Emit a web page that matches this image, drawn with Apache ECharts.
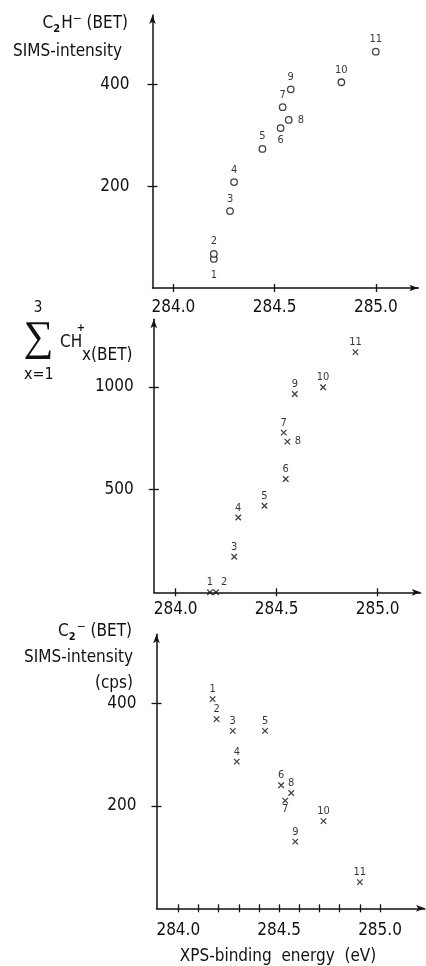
<!DOCTYPE html>
<html>
<head>
<meta charset="utf-8">
<script src="https://cdn.jsdelivr.net/npm/echarts@6/dist/echarts.min.js"></script>
<style>
  html, body { margin: 0; padding: 0; background: #fff; }
  #chart { width: 426px; height: 966px; }
</style>
</head>
<body>
<div id="chart"></div>
<script>
// Sample numbers 1..11, shared by all three panels
const pointNumbers = [1, 2, 3, 4, 5, 6, 7, 8, 9, 10, 11];

// Panel 1: C2H- (BET) SIMS intensity vs XPS binding energy
const c2hEnergy    = [284.20, 284.20, 284.28, 284.30, 284.44, 284.53, 284.54, 284.57, 284.58, 284.83, 285.00];
const c2hIntensity = [57, 67, 151, 208, 273, 314, 355, 330, 390, 404, 464];

// Panel 2: sum of CHx+ (x = 1..3) (BET)
const chxEnergy    = [284.17, 284.20, 284.29, 284.31, 284.44, 284.545, 284.535, 284.553, 284.59, 284.73, 284.89];
const chxIntensity = [0, 0, 173, 364, 422, 552, 778, 734, 966, 999, 1170];

// Panel 3: C2- (BET) SIMS intensity (cps)
const c2Energy    = [284.17, 284.19, 284.27, 284.29, 284.43, 284.51, 284.53, 284.56, 284.58, 284.72, 284.90];
const c2Intensity = [408, 369, 346, 286, 346, 240, 210, 225, 130, 170, 51];

// Tick values
const energyTicks = [284.0, 284.5, 285.0];
const energyFineTicks = [284.0, 284.1, 284.2, 284.3, 284.4, 284.5, 284.6, 284.7, 284.8, 284.9, 285.0];
const c2hTicks = [200, 400];
const chxTicks = [500, 1000];
const c2Ticks = [200, 400];

const INK = '#111';
const FONT = '"DejaVu Sans Condensed", "Liberation Sans Narrow", "DejaVu Sans", sans-serif';

// where each point's number sits relative to its marker (default: above)
const labelPlacement = [
  { 1: { position: 'bottom', distance: 7 }, 6: { position: 'bottom', distance: 3 }, 8: { position: 'right', distance: 5 } },
  { 2: { position: 'top', offset: [8, 0] }, 8: { position: 'right', distance: 4 } },
  { 7: { position: 'bottom', distance: 0 } }
];

const panels = [
  { grid: { left: 152.5, top: 15, width: 265.8, height: 273 },
    xRange: [283.897, 285.210], yRange: [0, 536],
    xTicks: energyTicks, yTicks: c2hTicks, yLabelMargin: 23, xLabelMargin: 11,
    energy: c2hEnergy, intensity: c2hIntensity, marker: 'circle', dist: 3 },
  { grid: { left: 153.8, top: 319.3, width: 266.9, height: 273 },
    xRange: [283.892, 285.213], yRange: [0, 1330],
    xTicks: energyTicks, yTicks: chxTicks, yLabelMargin: 20, xLabelMargin: 9,
    energy: chxEnergy, intensity: chxIntensity, marker: 'cross', dist: 1 },
  { grid: { left: 156.5, top: 634.3, width: 268.5, height: 274 },
    xRange: [283.892, 285.223], yRange: [0, 534.4],
    xTicks: energyFineTicks, xLabels: energyTicks, yTicks: c2Ticks, yLabelMargin: 20, xLabelMargin: 14,
    energy: c2Energy, intensity: c2Intensity, marker: 'cross', dist: 1 }
];

const grids = [], xAxes = [], yAxes = [], series = [];
const CROSS = 'path://M0,0L10,10M10,0L0,10';

panels.forEach((p, i) => {
  grids.push(p.grid);
  const labelVals = p.xLabels || p.xTicks;
  // main x axis: line with arrow, ticks below, labels
  xAxes.push({
    type: 'value', gridIndex: i, position: 'bottom', min: p.xRange[0], max: p.xRange[1],
    axisLine: { show: true, onZero: false, symbol: ['none', 'arrow'], symbolSize: [5, 9],
      lineStyle: { color: INK, width: 1.5 } },
    axisTick: { show: true, length: 4, customValues: p.xTicks, lineStyle: { color: INK, width: 1.3 } },
    axisLabel: { show: true, customValues: labelVals, margin: p.xLabelMargin, color: INK,
      fontFamily: FONT, fontSize: 17, formatter: v => v.toFixed(1) },
    splitLine: { show: false }
  });
  // companion x axis on the same line: tick marks above it, forming crosses
  xAxes.push({
    type: 'value', gridIndex: i, position: 'bottom', min: p.xRange[0], max: p.xRange[1],
    axisLine: { show: false, onZero: false },
    axisTick: { show: true, inside: true, length: 4, customValues: p.xTicks, lineStyle: { color: INK, width: 1.3 } },
    axisLabel: { show: false }, splitLine: { show: false }
  });
  yAxes.push({
    type: 'value', gridIndex: i, position: 'left', min: p.yRange[0], max: p.yRange[1],
    axisLine: { show: true, onZero: false, symbol: ['none', 'arrow'], symbolSize: [5, 9],
      lineStyle: { color: INK, width: 1.5 } },
    axisTick: { show: true, length: 5, customValues: p.yTicks, lineStyle: { color: INK, width: 1.3 } },
    axisLabel: { show: true, customValues: p.yTicks, margin: p.yLabelMargin, color: INK,
      fontFamily: FONT, fontSize: 17, formatter: v => String(v) },
    splitLine: { show: false }
  });
  yAxes.push({
    type: 'value', gridIndex: i, position: 'left', min: p.yRange[0], max: p.yRange[1],
    axisLine: { show: false, onZero: false },
    axisTick: { show: true, inside: true, length: 5, customValues: p.yTicks, lineStyle: { color: INK, width: 1.3 } },
    axisLabel: { show: false }, splitLine: { show: false }
  });

  const data = pointNumbers.map((n, k) => {
    const lp = labelPlacement[i][n] || {};
    return {
      name: String(n),
      value: [p.energy[k], p.intensity[k]],
      label: Object.assign({ position: 'top', distance: p.dist }, lp)
    };
  });

  series.push({
    type: 'scatter', xAxisIndex: 2 * i, yAxisIndex: 2 * i,
    symbol: p.marker === 'circle' ? 'circle' : CROSS,
    symbolSize: p.marker === 'circle' ? 6.5 : 5.5,
    itemStyle: p.marker === 'circle'
      ? { color: '#fff', borderColor: INK, borderWidth: 1.3 }
      : { color: 'rgba(0,0,0,0)', borderColor: INK, borderWidth: 1.3 },
    label: { show: true, formatter: '{b}', color: '#000', fontFamily: FONT, fontSize: 11 },
    emphasis: { disabled: true },
    data: data
  });
});

const txt = (x, y, text, opts) => ({
  type: 'text', x: x, y: y, silent: true,
  style: Object.assign({ text: text, fill: INK, font: '17px ' + FONT,
    align: 'right', verticalAlign: 'middle' }, opts || {})
});

const richBase = {
  n: { fontFamily: FONT, fontSize: 17, lineHeight: 22, verticalAlign: 'middle', color: INK },
  sub: { fontFamily: FONT, fontSize: 11, fontWeight: 'bold', lineHeight: 22, verticalAlign: 'bottom', color: INK, padding: [0, 1, 0, 0] },
  sup: { fontFamily: FONT, fontSize: 12, lineHeight: 22, verticalAlign: 'top', color: INK }
};

const graphics = [
  // panel 1 title
  txt(128, 24, '{n|C}{sub|2}{n|H}{sup|−}{n| (BET)}', { rich: richBase }),
  txt(122, 52, 'SIMS-intensity'),
  // panel 2 title: summation of CHx+
  txt(38, 308, '3', { align: 'center', font: '15px ' + FONT }),
  txt(38.5, 339, '∑', { align: 'center', font: '42px "Liberation Serif", serif' }),
  txt(60, 343, 'CH', { align: 'left' }),
  txt(81, 328, '+', { align: 'center', font: 'bold 11px ' + FONT }),
  txt(82, 356, 'x(BET)', { align: 'left' }),
  txt(24, 375, 'x=1', { align: 'left', font: '16px ' + FONT }),
  // panel 3 title
  txt(132, 632, '{n|C}{sub|2}{sup|−}{n| (BET)}', { rich: richBase }),
  txt(133, 658, 'SIMS-intensity'),
  txt(133, 684, '(cps)'),
  // shared x axis title
  txt(278, 957, 'XPS-binding  energy  (eV)', { align: 'center' })
];

const chart = echarts.init(document.getElementById('chart'), null, { renderer: 'canvas' });
chart.setOption({
  backgroundColor: '#fff',
  animation: false,
  grid: grids,
  xAxis: xAxes,
  yAxis: yAxes,
  series: series,
  graphic: graphics
});
</script>
</body>
</html>
